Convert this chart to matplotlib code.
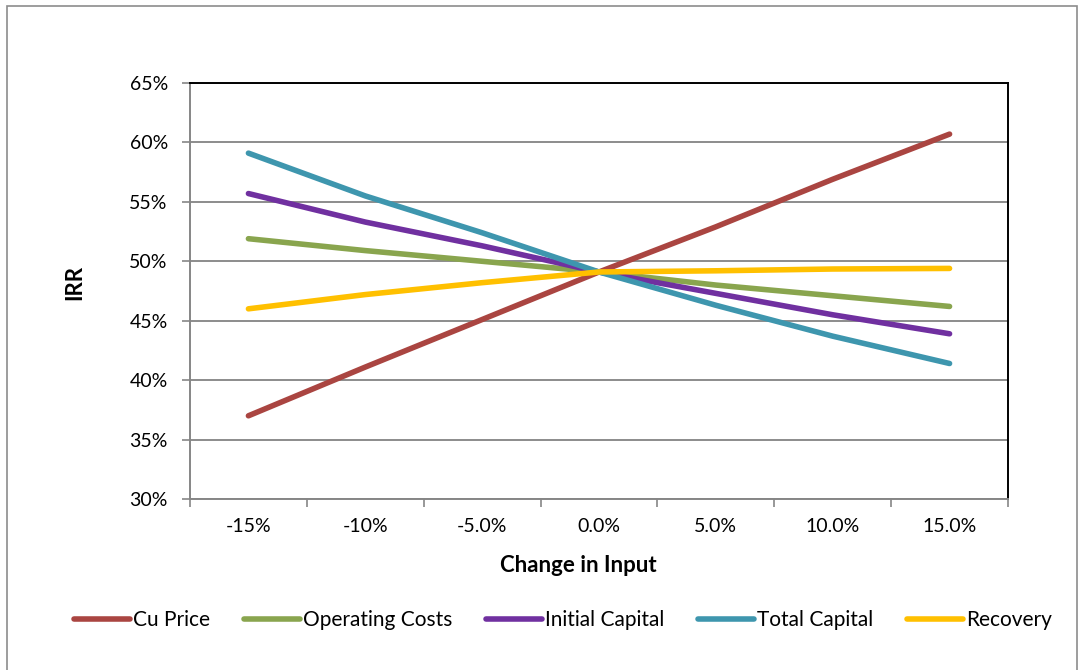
import matplotlib
matplotlib.use('Agg')
import matplotlib.pyplot as plt
from matplotlib.patches import Rectangle
from matplotlib.ticker import FuncFormatter

# sensitivity data
changes = ['-15%', '-10%', '-5.0%', '0.0%', '5.0%', '10.0%', '15.0%']
cu_price = [37.0, 41.1, 45.1, 49.1, 52.9, 56.9, 60.7]
operating_costs = [51.9, 50.9, 50.0, 49.1, 48.0, 47.1, 46.2]
initial_capital = [55.7, 53.3, 51.3, 49.1, 47.3, 45.5, 43.9]
total_capital = [59.1, 55.5, 52.4, 49.1, 46.3, 43.7, 41.4]
recovery = [46.0, 47.2, 48.2, 49.1, 49.2, 49.35, 49.4]

series = [('Cu Price', cu_price, '#AA4541'),
          ('Operating Costs', operating_costs, '#89A54E'),
          ('Initial Capital', initial_capital, '#7030A0'),
          ('Total Capital', total_capital, '#3E96AE'),
          ('Recovery', recovery, '#FFC000')]

plt.rcParams['font.family'] = ['Lato', 'DejaVu Sans']

W, H = 1079, 670
fig = plt.figure(figsize=(W / 100, H / 100), dpi=100)
fig.patches.append(Rectangle((7 / W, -0.1), (W - 9) / W, 1 - 6 / H + 0.1,
                             transform=fig.transFigure, fill=False,
                             edgecolor='#8C8C8C', linewidth=1.2))

ax = fig.add_axes([190 / W, 1 - 499 / H, 818 / W, 416 / H])
x = list(range(len(changes)))
for name, vals, col in series:
    ax.plot(x, [v / 100 for v in vals], color=col, linewidth=4,
            solid_capstyle='round', label=name, zorder=3)

ax.set_xlim(-0.5, len(changes) - 0.5)
ax.set_ylim(0.30, 0.65)
ax.set_yticks([0.30 + 0.05 * i for i in range(8)])
ax.yaxis.set_major_formatter(FuncFormatter(lambda v, p: '{:.0f}%'.format(v * 100)))
ax.set_xticks(x)
ax.set_xticklabels(changes)
ax.set_xticks([i - 0.5 for i in range(len(changes) + 1)], minor=True)
ax.tick_params(axis='x', which='major', length=0, pad=14, labelsize=14)
ax.tick_params(axis='x', which='minor', length=6, width=1.2, color='#868686')
ax.tick_params(axis='y', length=6, width=1.2, color='#868686', pad=10, labelsize=14)
ax.grid(axis='y', color='#8C8C8C', linewidth=1.4, zorder=1)

for s in ['left', 'bottom']:
    ax.spines[s].set_color('#868686')
    ax.spines[s].set_linewidth(1.4)
for s in ['top', 'right']:
    ax.spines[s].set_color('black')
    ax.spines[s].set_linewidth(1.4)

ax.set_xlabel('Change in Input', fontsize=16, fontweight='bold')
ax.xaxis.set_label_coords((578 - 190) / 818, (499 - 566) / 416)
ax.xaxis.label.set_va('center')
ax.set_ylabel('IRR', fontsize=16, fontweight='bold')
ax.yaxis.set_label_coords((75 - 190) / 818, (499 - 283) / 416)
ax.yaxis.label.set_va('center')

fig.legend(loc='center', bbox_to_anchor=(563 / W, 1 - 620 / H), ncol=5,
           frameon=False, fontsize=15, handlelength=2.7, handletextpad=0.15,
           columnspacing=1.6)

fig.savefig('out.png', dpi=100)
